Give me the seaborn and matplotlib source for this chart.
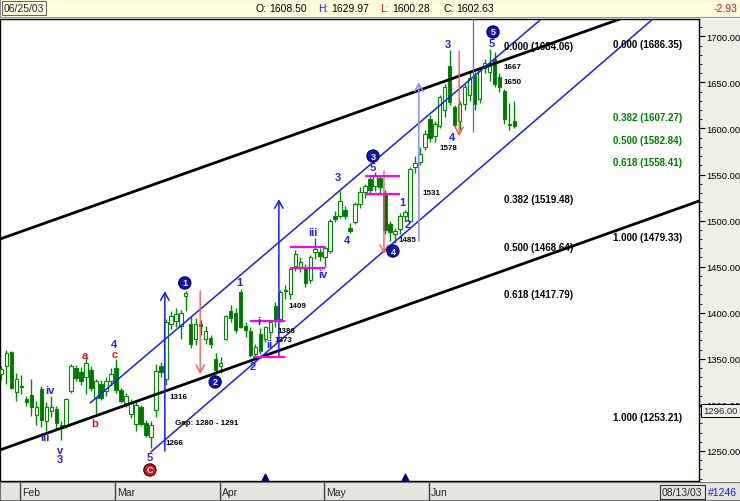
import matplotlib
matplotlib.use('Agg')
import matplotlib.pyplot as plt
import matplotlib.transforms as mtransforms
from matplotlib.ticker import MultipleLocator
import numpy as np
import pandas as pd
import seaborn as sns

# ---- data (NASDAQ daily candles, Jan 28 - Jun 25 2003) ----
dates = ['01/28', '01/29', '01/30', '01/31',
         '02/03', '02/04', '02/05', '02/06', '02/07', '02/10', '02/11', '02/12', '02/13', '02/14',
         '02/18', '02/19', '02/20', '02/21', '02/24', '02/25', '02/26', '02/27', '02/28',
         '03/03', '03/04', '03/05', '03/06', '03/07', '03/10', '03/11', '03/12', '03/13', '03/14',
         '03/17', '03/18', '03/19', '03/20', '03/21', '03/24', '03/25', '03/26', '03/27', '03/28', '03/31',
         '04/01', '04/02', '04/03', '04/04', '04/07', '04/08', '04/09', '04/10', '04/11',
         '04/14', '04/15', '04/16', '04/17', '04/21', '04/22', '04/23', '04/24', '04/25',
         '04/28', '04/29', '04/30',
         '05/01', '05/02', '05/05', '05/06', '05/07', '05/08', '05/09', '05/12', '05/13', '05/14',
         '05/15', '05/16', '05/19', '05/20', '05/21', '05/22', '05/23', '05/27', '05/28', '05/29', '05/30',
         '06/02', '06/03', '06/04', '06/05', '06/06', '06/09', '06/10', '06/11', '06/12', '06/13',
         '06/16', '06/17', '06/18', '06/19', '06/20', '06/23', '06/24', '06/25']

opens = [1334, 1342, 1357, 1314, 1321, 1306, 1311, 1289, 1317, 1283,
         1293, 1295, 1278, 1277, 1315, 1340, 1336, 1330, 1338, 1308,
         1323, 1315, 1326, 1340, 1316, 1302, 1290, 1279, 1298, 1280,
         1265, 1294, 1342, 1328, 1388, 1391, 1386, 1418, 1388, 1372,
         1388, 1372, 1373, 1350, 1342, 1372, 1402, 1400, 1423, 1386,
         1380, 1355, 1377, 1372, 1379, 1407, 1393, 1424, 1420, 1451,
         1450, 1450, 1435, 1466, 1466, 1460, 1467, 1505, 1505, 1512,
         1492, 1499, 1518, 1531, 1545, 1538, 1546, 1530, 1496, 1486,
         1491, 1505, 1500, 1558, 1564, 1580, 1610, 1592, 1603, 1620,
         1668, 1623, 1608, 1627, 1636, 1657, 1632, 1666, 1661, 1675,
         1656, 1641, 1604, 1608.50]
highs = [1342, 1360, 1359, 1335, 1332, 1310, 1328, 1304, 1320, 1303,
         1310, 1299, 1283, 1307, 1344, 1343, 1341, 1352, 1342, 1328,
         1327, 1330, 1340, 1350, 1318, 1313, 1306, 1303, 1300, 1284,
         1282, 1344, 1347, 1393, 1402, 1405, 1403, 1424, 1395, 1394,
         1392, 1386, 1376, 1356, 1352, 1398, 1408, 1405, 1426, 1390,
         1384, 1366, 1383, 1386, 1392, 1412, 1425, 1430, 1450, 1468,
         1460, 1453, 1463, 1481, 1470, 1472, 1502, 1510, 1532, 1516,
         1497, 1520, 1536, 1540, 1550, 1553, 1550, 1533, 1500, 1492,
         1508, 1512, 1558, 1570, 1580, 1598, 1615, 1608, 1636, 1648,
         1685, 1626, 1630, 1648, 1662, 1661, 1666, 1675, 1686, 1683,
         1660, 1643, 1628, 1629.97]
lows = [1327, 1323, 1317, 1304, 1312, 1299, 1288, 1278, 1276, 1272,
        1287, 1274, 1262, 1275, 1313, 1326, 1322, 1312, 1315, 1290,
        1305, 1310, 1322, 1313, 1302, 1298, 1286, 1272, 1277, 1265,
        1253, 1287, 1330, 1322, 1382, 1385, 1372, 1402, 1362, 1365,
        1376, 1366, 1362, 1334, 1335, 1370, 1390, 1378, 1383, 1374,
        1352, 1350, 1355, 1368, 1372, 1385, 1390, 1415, 1415, 1445,
        1444, 1428, 1432, 1458, 1456, 1450, 1465, 1498, 1503, 1502,
        1487, 1496, 1514, 1525, 1528, 1532, 1530, 1485, 1478, 1476,
        1485, 1500, 1498, 1552, 1560, 1577, 1585, 1585, 1600, 1612,
        1626, 1600, 1598, 1620, 1630, 1620, 1628, 1660, 1652, 1645,
        1640, 1605, 1598, 1600.28]
closes = [1339, 1356, 1318, 1328, 1319, 1303, 1298, 1298, 1284, 1298,
          1298, 1280, 1276, 1306, 1342, 1329, 1326, 1346, 1318, 1326,
          1307, 1326, 1334, 1316, 1304, 1310, 1303, 1300, 1279, 1267,
          1278, 1337, 1336, 1390, 1397, 1399, 1400, 1421, 1366, 1388,
          1386, 1380, 1366, 1338, 1345, 1396, 1394, 1381, 1385, 1381,
          1354, 1363, 1358, 1384, 1390, 1391, 1423, 1424, 1447, 1464,
          1455, 1432, 1461, 1469, 1462, 1470, 1500, 1502, 1521, 1505,
          1489, 1518, 1531, 1538, 1533, 1549, 1537, 1490, 1488, 1489,
          1505, 1509, 1556, 1562, 1572, 1594, 1590, 1605, 1634, 1645,
          1629, 1604, 1627, 1645, 1655, 1627, 1664, 1671, 1668, 1648,
          1645, 1610, 1605, 1602.63]

month_names = ['Feb', 'Mar', 'Apr', 'May', 'Jun']
price_ticks = [1250, 1300, 1350, 1400, 1450, 1500, 1550, 1600, 1650, 1700]

# trend channels (start bar, start price, end bar, end price)
channel_x0 = [-0.3, -0.3, 17.8, 30.0]
channel_y0 = [1480.0, 1251.1, 1302.1, 1248.9]
channel_x1 = [124.2, 140.1, 108.4, 130.8]
channel_y1 = [1718.8, 1521.3, 1718.8, 1718.8]
channel_colors = ['black', 'black', '#1a1aff', '#1a1aff']
channel_widths = [2.0, 2.0, 1.1, 1.1]

# projection arrows
red_arrow_x = [39.9, 76.8, 91.9]
red_arrow_from = [1423.6, 1553.8, 1684.0]
red_arrow_to = [1333.5, 1463.8, 1591.8]
blue_arrow_x = [32.8, 55.7, 83.8]
blue_arrow_from = [1250.0, 1352.0, 1477.9]
blue_arrow_to = [1423.6, 1523.4, 1650.4]
blue_arrow_colors = ['#1a1aff', '#1a1aff', '#8c8cff']

# magenta range lines
pink_levels = [1390.7, 1352.3, 1471.0, 1448.6, 1548.4, 1528.9]
pink_start = [49.9, 50.5, 57.9, 57.9, 73.0, 73.0]
pink_end = [57.0, 57.0, 65.0, 65.0, 80.0, 80.0]

# Elliott wave labels
wave_text = ['iii', 'v', '3', 'iv', 'a', 'b', '4', 'c', '5', '1', '2', 'i', 'ii',
             'iii', 'iv', '3', '4', '5', '1', '2', '3', '4', '5']
wave_x = [8.7, 11.7, 11.7, 9.7, 16.8, 18.8, 22.6, 22.8, 29.8, 47.7, 50.5, 51.7, 53.7,
          62.6, 64.6, 67.6, 69.4, 74.6, 80.4, 81.6, 89.7, 90.5, 98.5]
wave_y = [1265.2, 1251.1, 1241.3, 1316.2, 1354.2, 1280.4, 1366.1, 1355.3, 1243.5, 1433.4,
          1342.2, 1391.1, 1366.1, 1487.6, 1442.1, 1547.3, 1478.9, 1558.2, 1520.2, 1496.3,
          1691.6, 1590.7, 1692.7]
red_waves = ['a', 'b', 'c']

circle_text = ['1', '2', '3', '4', '5']
circle_x = [36.8, 42.9, 74.6, 78.6, 98.7]
circle_y = [1432.3, 1324.9, 1570.1, 1467.0, 1704.7]

price_notes = ['1316', 'Gap: 1280 - 1291', '1266', '1386', '1373', '1409',
               '1485', '1531', '1578', '1667', '1650']
note_x = [33.8, 34.8, 33.0, 55.5, 54.9, 57.7, 79.8, 84.6, 87.9, 100.7, 100.7]
note_y = [1308.6, 1280.4, 1258.7, 1380.2, 1371.5, 1407.4, 1480.0, 1531.0, 1578.8, 1667.0, 1650.7]

fib_text = ['0.000 (1684.06)', '0.382 (1519.48)', '0.500 (1468.64)', '0.618 (1417.79)',
            '0.000 (1686.35)', '0.382 (1607.27)', '0.500 (1582.84)', '0.618 (1558.41)',
            '1.000 (1479.33)', '1.000 (1253.21)']
fib_x = [100.9, 100.9, 100.9, 100.9, 122.8, 122.8, 122.8, 122.8, 122.8, 122.8]
fib_y = [1689.5, 1523.5, 1471.4, 1420.4, 1691.6, 1612.4, 1587.5, 1563.6, 1482.2, 1286.9]
fib_colors = ['black'] * 5 + ['#008000'] * 3 + ['black'] * 2

marker_bars = [53, 81]

sns.set_style('white')
plt.rcParams['font.family'] = ['Liberation Sans', 'DejaVu Sans']

W, H = 740, 502
fig = plt.figure(figsize=(W / 100, H / 100), dpi=100)
fig.patch.set_facecolor('white')

df = pd.DataFrame({'date': dates, 'open': opens, 'high': highs, 'low': lows, 'close': closes})
df['bar'] = np.arange(len(df))
df['up'] = df['close'] >= df['open']

# right price panel background
fig.patches.append(plt.Rectangle((699 / W, 20 / H), 41 / W, 462 / H, transform=fig.transFigure,
                                 facecolor='#efefe6', edgecolor='none', zorder=-5))

ax = fig.add_axes([0, 20 / H, 699 / W, 462 / H])
ax.set_xlim(-0.30, 140.06)
ax.set_ylim(1217.4, 1718.8)

green = '#008a00'
ax.vlines(df['bar'], df['low'], df['high'], color=green, lw=1, zorder=3)
body_lo = np.minimum(df['open'], df['close'])
body_h = np.maximum(np.abs(df['close'] - df['open']), 0.8)
ax.bar(df['bar'], body_h, bottom=body_lo, width=0.7,
       color=np.where(df['up'], 'white', '#0a6e0a'), edgecolor=green, linewidth=0.8, zorder=4)

# channel lines
for x0, y0, x1, y1, c, w in zip(channel_x0, channel_y0, channel_x1, channel_y1,
                                channel_colors, channel_widths):
    sns.lineplot(x=[x0, x1], y=[y0, y1], ax=ax, color=c, lw=w, zorder=5, legend=False)

for x, y0, y1 in zip(red_arrow_x, red_arrow_from, red_arrow_to):
    ax.annotate('', xy=(x, y1), xytext=(x, y0), zorder=6,
                arrowprops=dict(arrowstyle='->,head_length=0.55,head_width=0.3',
                                color='#ff5a5a', lw=1, shrinkA=0, shrinkB=0))
for x, y0, y1, c in zip(blue_arrow_x, blue_arrow_from, blue_arrow_to, blue_arrow_colors):
    ax.annotate('', xy=(x, y1), xytext=(x, y0), zorder=6,
                arrowprops=dict(arrowstyle='->,head_length=0.55,head_width=0.3',
                                color=c, lw=1.1, shrinkA=0, shrinkB=0))
ax.vlines(94.7, 1596.1, 1718.8, color='#5a5aff', lw=0.9, zorder=6)

ax.hlines(pink_levels, pink_start, pink_end, color='#ff00ff', lw=1.6, zorder=6)

for t, x, y in zip(wave_text, wave_x, wave_y):
    ax.text(x, y, t, color='#e01010' if t in red_waves else '#2323e6', fontsize=8,
            fontweight='bold', ha='center', va='center', zorder=8)

for t, x, y in zip(circle_text, circle_x, circle_y):
    ax.text(x, y, t, color='white', fontsize=6.5, fontweight='bold', ha='center', va='center',
            zorder=9, bbox=dict(boxstyle='circle,pad=0.18', fc='#1010c8', ec='#000050', lw=0.8))
ax.text(29.8, 1229.4, 'C', color='white', fontsize=6.5, fontweight='bold', ha='center',
        va='center', zorder=9, bbox=dict(boxstyle='circle,pad=0.18', fc='#e81010', ec='#300000', lw=0.8))

for t, x, y in zip(price_notes, note_x, note_y):
    ax.text(x, y, t, color='black', fontsize=5.8, fontweight='bold', ha='left', va='center', zorder=8)

for t, x, y, c in zip(fib_text, fib_x, fib_y, fib_colors):
    ax.text(x, y, t, color=c, fontsize=7, fontweight='bold', ha='left', va='center', zorder=8)

ax.scatter(marker_bars, [1222] * len(marker_bars), marker='^', s=22, color='#000080', zorder=8)

# price scale on the right
ax.set_xticks([])
ax.set_xlabel('')
ax.set_ylabel('')
ax.set_yticks(price_ticks)
ax.set_yticklabels([f'{v:.2f}' for v in price_ticks])
ax.yaxis.set_minor_locator(MultipleLocator(10))
ax.yaxis.set_ticks_position('right')
ax.yaxis.set_label_position('right')
ax.tick_params(axis='y', which='both', left=False, right=True, labelleft=False, labelright=True)
ax.tick_params(axis='y', which='major', direction='out', length=4, width=0.8,
               labelsize=6.8, pad=1.5, color='black', labelcolor='black')
ax.tick_params(axis='y', which='minor', direction='out', length=2, width=0.6, color='black')
for s in ax.spines.values():
    s.set_color('black')
    s.set_linewidth(1)
    s.set_visible(True)

trans = mtransforms.blended_transform_factory(ax.transAxes, ax.transData)
ax.plot([1.0, 1.06], [1299.0, 1299.0], transform=trans, color='black', lw=0.9, clip_on=False, zorder=10)
ax.text(1.006, 1294.0, '1296.00', transform=trans, fontsize=6.8, ha='left', va='center',
        zorder=11, clip_on=False, bbox=dict(boxstyle='square,pad=0.25', fc='#efefe6', ec='black', lw=0.7))

# header bar
ax_h = fig.add_axes([0, 484 / H, 1, 18 / H])
ax_h.set_xlim(0, W)
ax_h.set_ylim(0, 18)
ax_h.set_facecolor('#ffffe0')
ax_h.set_xticks([])
ax_h.set_yticks([])
for s in ax_h.spines.values():
    s.set_color('#909090')
ax_h.text(4, 9, '06/25/03', fontsize=7.5, va='center', ha='left',
          bbox=dict(boxstyle='square,pad=0.2', fc='#ffffe0', ec='#606060', lw=0.7))
hdr_parts = [('O:', 'black', 255), ('1608.50', 'black', 269), ('H:', '#1a1aff', 318),
             ('1629.97', 'black', 331), ('L:', '#e01010', 380), ('1600.28', 'black', 392),
             ('C:', 'black', 443), ('1602.63', 'black', 456)]
for t, c, x in hdr_parts:
    ax_h.text(x, 9, t, color=c, fontsize=7.5, va='center', ha='left')
ax_h.text(737, 9, '-2.93', color='#e01010', fontsize=7.5, va='center', ha='right')

# bottom date bar
ax_b = fig.add_axes([0, 1 / H, 1, 18 / H])
ax_b.set_xlim(-0.30, 148.3)
ax_b.set_ylim(0, 1)
ax_b.set_facecolor('#e6e6de')
ax_b.set_xticks([])
ax_b.set_yticks([])
for s in ax_b.spines.values():
    s.set_color('#707070')
month_ids = [dt[:2] for dt in dates]
starts = [i for i in range(1, len(dates)) if month_ids[i] != month_ids[i - 1]]
for name, i in zip(month_names, starts):
    ax_b.axvline(i - 0.2, color='#404040', lw=1)
    ax_b.text(i + 0.2, 0.45, name, fontsize=7.5, va='center', ha='left')
ax_b.text(136.7, 0.45, '08/13/03', fontsize=7.5, va='center', ha='center',
          bbox=dict(boxstyle='square,pad=0.2', fc='#e6e6de', ec='#303030', lw=0.8))
ax_b.text(144.8, 0.45, '#1246', fontsize=7.5, va='center', ha='center', color='#1a1aff')

fig.savefig('out.png', dpi=100)
